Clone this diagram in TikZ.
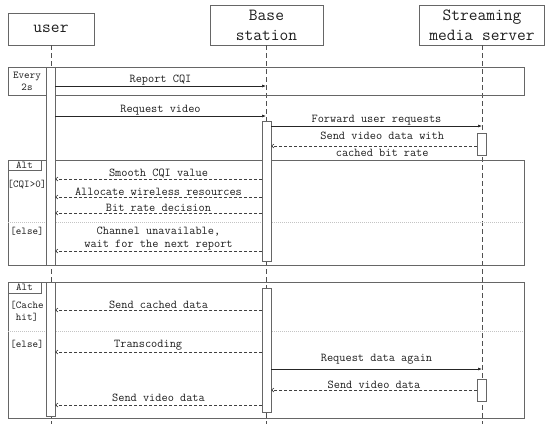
\documentclass[tikz,border=0pt]{standalone}
\usepackage{tikz}
\usetikzlibrary{arrows.meta,calc}
\definecolor{FrameGray}{HTML}{666666}
\definecolor{LifeGray}{HTML}{505050}
\definecolor{TextInk}{HTML}{1E1E1E}
\definecolor{SplitGray}{HTML}{C4C4C4}

\begin{document}
\begin{tikzpicture}[
  x=1pt,y=-1pt,
  every node/.style={font=\ttfamily\fontsize{12}{13}\selectfont,text=TextInk,inner sep=1pt},
  headbox/.style={draw=FrameGray,line width=.7pt,align=center,
    font=\ttfamily\fontsize{17}{20}\selectfont},
  lifeline/.style={draw=LifeGray,line width=.6pt,dash pattern=on 5pt off 3pt},
  actbar/.style={draw=FrameGray,fill=white,line width=.6pt},
  framebox/.style={draw=FrameGray,line width=.7pt},
  splitline/.style={draw=SplitGray,line width=.5pt,dash pattern=on 1pt off 1pt},
  guard/.style={font=\ttfamily\fontsize{10.5}{12}\selectfont,align=center},
  callmsg/.style={draw=black!85,line width=.6pt,-{Latex[length=4pt,width=3pt]}},
  replymsg/.style={draw=black!75,line width=.6pt,dash pattern=on 3pt off 2pt,
    -{Straight Barb[length=2.5pt,width=4pt]}}
]
  \useasboundingbox (0,0) rectangle (550,424);
  \coordinate (bottom) at (0,424);

  \node[headbox,minimum width=86pt,minimum height=32pt] (user) at (51,29) {user};
  \node[headbox,minimum width=113pt,minimum height=40pt] (base) at (266.5,25)
    {Base\\station};
  \node[headbox,minimum width=125pt,minimum height=40pt] (server) at (482,25)
    {Streaming\\media server};

  \draw[lifeline] (user.south) -- (user.south |- bottom);
  \draw[lifeline] (base.south) -- (base.south |- bottom);
  \draw[lifeline] (server.south) -- (server.south |- bottom);

  % loop frame
  \draw[framebox] (8,67) rectangle (524,95);
  \draw[framebox] (8,67) rectangle (46,95);
  \node[guard] (every) at (27,81) {Every\\2s};

  % first alt frame
  \draw[framebox] (8,160) rectangle (524,265);
  \draw[framebox] (8,160) rectangle (41,170);
  \node[guard,inner sep=0pt] (altA) at (24.5,165) {Alt};
  \draw[splitline] (8,222) -- (524,222);
  \node[guard] (cqi) at (27,185) {[CQI>0]};
  \node[guard] (elseA) at (27,231) {[else]};

  % second alt frame
  \draw[framebox] (8,282) rectangle (524,418);
  \draw[framebox] (8,282) rectangle (41,293);
  \node[guard,inner sep=0pt] (altB) at (24.5,287.5) {Alt};
  \draw[splitline] (8,331) -- (524,331);
  \node[guard] (cache) at (27,311.5) {[Cache\\hit]};
  \node[guard] (elseB) at (27,344) {[else]};

  \draw[actbar] (46,67) rectangle (55,265);
  \draw[actbar] (46,282) rectangle (55,416);
  \draw[actbar] (262,121) rectangle (271,261);
  \draw[actbar] (262,288) rectangle (271,412);
  \draw[actbar] (477,133) rectangle (486,155);
  \draw[actbar] (477,379) rectangle (486,401);

  \coordinate (u1) at (55,86);   \coordinate (b1) at (266,86);
  \coordinate (u2) at (55,116);  \coordinate (b2) at (266,116);
  \coordinate (b3) at (271,126); \coordinate (s3) at (482,126);
  \coordinate (s4) at (477,146); \coordinate (b4) at (271,146);
  \coordinate (b5) at (262,179); \coordinate (u5) at (55,179);
  \coordinate (b6) at (262,197); \coordinate (u6) at (55,197);
  \coordinate (b7) at (262,213); \coordinate (u7) at (55,213);
  \coordinate (b8) at (262,251); \coordinate (u8) at (55,251);
  \coordinate (b9) at (262,310); \coordinate (u9) at (55,310);
  \coordinate (b10) at (262,352); \coordinate (u10) at (55,352);
  \coordinate (b11) at (271,369); \coordinate (s11) at (482,369);
  \coordinate (s12) at (477,390); \coordinate (b12) at (271,390);
  \coordinate (b13) at (262,405); \coordinate (u13) at (55,405);

  \draw[callmsg] (u1) -- (b1) node[midway,above] {Report CQI};
  \draw[callmsg] (u2) -- (b2) node[midway,above] {Request video};
  \draw[callmsg] (b3) -- (s3) node[midway,above] {Forward user requests};
  \draw[replymsg] (s4) -- (b4)
    node[pos=.46,align=center,yshift=1.5pt,
      font=\ttfamily\fontsize{12}{17}\selectfont]
    {Send video data with\\cached bit rate};
  \draw[replymsg] (b5) -- (u5) node[midway,above] {Smooth CQI value};
  \draw[replymsg] (b6) -- (u6) node[midway,above] {Allocate wireless resources};
  \draw[replymsg] (b7) -- (u7) node[midway,above] {Bit rate decision};
  \draw[replymsg] (b8) -- (u8) node[midway,above,align=center]
    {Channel unavailable,\\wait for the next report};
  \draw[replymsg] (b9) -- (u9) node[midway,above] {Send cached data};
  \draw[replymsg] (b10) -- (u10) node[pos=.55,above] {Transcoding};
  \draw[callmsg] (b11) -- (s11) node[midway,above=3pt] {Request data again};
  \draw[replymsg] (s12) -- (b12) node[midway,above] {Send video data};
  \draw[replymsg] (b13) -- (u13) node[midway,above=2pt] {Send video data};
\end{tikzpicture}
\end{document}
